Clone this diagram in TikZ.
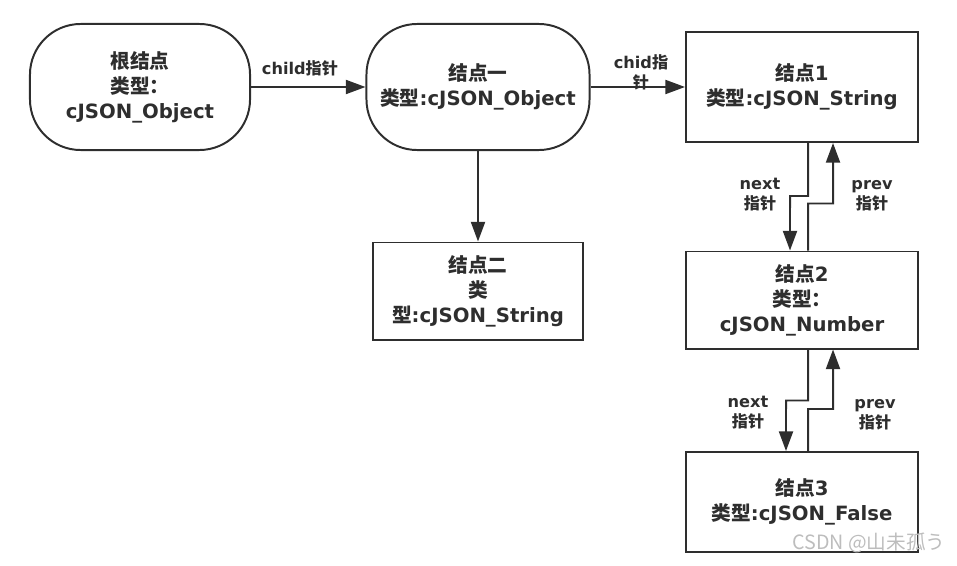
\documentclass[tikz,border=0pt]{standalone}
\usepackage{fontspec}
\setmainfont{DejaVu Sans}
\newfontfamily\cjk{Noto Sans CJK SC}
\usetikzlibrary{positioning, arrows.meta}
\definecolor{lineK}{HTML}{2E2E2E}
\definecolor{markG}{HTML}{BDBDBD}

\begin{document}
\begin{tikzpicture}[x=0.025cm, y=-0.025cm,
    font=\fontsize{14}{17.8}\selectfont\bfseries,
    box/.style={draw=lineK, line width=1.4pt, text=lineK, align=center, inner sep=0pt},
    pill/.style={box, rounded corners=36pt},
    ptr/.style={draw=lineK, line width=1.4pt, -{Triangle[length=14pt,width=10pt]}},
    lbl/.style={font=\fontsize{11.5}{14.2}\selectfont\bfseries, text=lineK, align=center, inner sep=1pt}]
  \useasboundingbox (0,0) rectangle (957,565);
  % object nodes
  \node[pill, minimum width=5.5cm, minimum height=3.15cm] (root) at (140,87)
     {{\cjk 根结点}\\{\cjk 类型：}\\cJSON\_Object};
  \node[pill, minimum width=5.575cm, minimum height=3.15cm] (obj1) at (478,87)
     {{\cjk 结点一}\\{\cjk 类型}:cJSON\_Object};
  \node[box, minimum width=5.225cm, minimum height=2.425cm] (obj2) at (478,291)
     {{\cjk 结点二}\\{\cjk 类}\\{\cjk 型}:cJSON\_String};
  % linked list
  \node[box, minimum width=5.8cm, minimum height=2.75cm] (n1) at (802,87)
     {{\cjk 结点}1\\{\cjk 类型}:cJSON\_String};
  \node[box, minimum width=5.8cm, minimum height=2.425cm] (n2) at (802,300)
     {{\cjk 结点}2\\{\cjk 类型：}\\cJSON\_Number};
  \node[box, minimum width=5.8cm, minimum height=2.5cm] (n3) at (802,502)
     {{\cjk 结点}3\\{\cjk 类型}:cJSON\_False};
  % child pointers
  \draw[ptr] (root) -- (obj1);
  \node[lbl] (lchild) at (300,68) {child{\cjk 指针}};
  \draw[ptr] (obj1) -- (n1);
  \node[lbl] (lchid) at (641,72) {chid{\cjk 指}\\{\cjk 针}};
  \draw[ptr] (obj1) -- (obj2);
  % next / prev between 1 and 2
  \draw[ptr] ([xshift=0.15cm]n1.south) -- ++(0,53) -- ++(-18,0) -- ([xshift=-0.3cm]n2.north);
  \draw[ptr] ([xshift=0.15cm]n2.north) -- ++(0,-47) -- ++(25,0) -- ([xshift=0.775cm]n1.south);
  \node[lbl] (lnext1) at (760,195) {next\\{\cjk 指针}};
  \node[lbl] (lprev1) at (872,196) {prev\\{\cjk 指针}};
  % next / prev between 2 and 3
  \draw[ptr] ([xshift=0.15cm]n2.south) -- ++(0,51) -- ++(-22,0) -- ([xshift=-0.4cm]n3.north);
  \draw[ptr] ([xshift=0.15cm]n3.north) -- ++(0,-42) -- ++(25,0) -- ([xshift=0.775cm]n2.south);
  \node[lbl] (lnext2) at (748,413) {next\\{\cjk 指针}};
  \node[lbl] (lprev2) at (875,415) {prev\\{\cjk 指针}};
  % watermark
  \node[font=\cjk\fontsize{14}{16}\selectfont, text=markG, inner sep=0pt] (mark) at (869,543)
     {CSDN @山未孤う};
\end{tikzpicture}
\end{document}
